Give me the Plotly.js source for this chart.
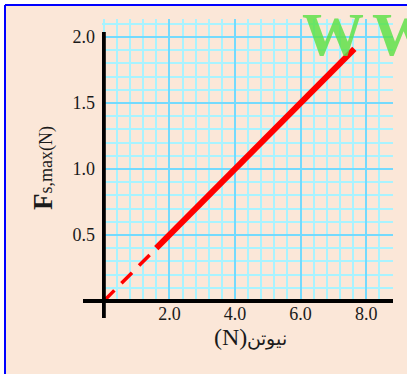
<!DOCTYPE html>
<html>
<head>
<meta charset="utf-8">
<script src="https://cdn.plot.ly/plotly-3.0.1.min.js"></script>
<style>
  html, body { margin: 0; padding: 0; background: #ffffff; }
  #chart { width: 407px; height: 374px; }
</style>
</head>
<body>
<div id="chart"></div>
<script>
// ---- data ----
const dashedX = [0, 1.6];
const dashedY = [0, 0.4];
const solidX = [1.6, 7.64];
const solidY = [0.4, 1.91];
const xTickVals = [2, 4, 6, 8];
const xTickText = ["2.0", "4.0", "6.0", "8.0"];
const yTickVals = [0.5, 1.0, 1.5, 2.0];
const yTickText = ["0.5", "1.0", "1.5", "2.0"];
const xTitleUnit = "(N)";
const xTitleWord = "نيوتن";
const yTitleMain = "F";
const yTitleSub = "s,max(N)";
const watermarkLetters = ["W", "W"];

// ---- layout geometry (pixels) ----
const W = 407, H = 374;
const M = { l: 102, r: 14, t: 19, b: 71 };
const PW = W - M.l - M.r, PH = H - M.t - M.b;
const px = x => (x - M.l) / PW;          // pixel x -> paper
const py = y => (H - M.b - y) / PH;      // pixel y -> paper

const serif = "Liberation Serif, Times New Roman, serif";
const majorGrid = "#74dafd";
const minorGrid = "#a8f3ff";

const traces = [
  {
    x: dashedX, y: dashedY, mode: "lines", type: "scatter",
    line: { color: "#ff0000", width: 3.5, dash: "15px,10px" },
    hoverinfo: "skip"
  },
  {
    x: solidX, y: solidY, mode: "lines", type: "scatter",
    line: { color: "#ff0000", width: 6 },
    hoverinfo: "skip"
  }
];

const watermarkAnnotations = watermarkLetters.map((ch, i) => ({
  xref: "paper", yref: "paper", x: px(300 + 70 * i), y: py(34), xanchor: "left", yanchor: "middle",
  showarrow: false, text: "<b>" + ch + "</b>",
  font: { family: serif, size: 62, color: "rgba(90,225,70,0.82)" }
}));

const layout = {
  width: W, height: H,
  margin: M,
  paper_bgcolor: "#ffffff",
  plot_bgcolor: "#ffffff",
  showlegend: false,
  xaxis: {
    range: [-0.055, 8.817],
    tickmode: "array", tickvals: xTickVals, ticktext: xTickText,
    showgrid: true, gridcolor: majorGrid, gridwidth: 2,
    zeroline: false, showline: false, ticks: "",
    ticklabelstandoff: -2,
    tickfont: { family: serif, size: 18, color: "#1a1a1a" },
    minor: { tickmode: "linear", tick0: 0, dtick: 0.4, showgrid: true, gridcolor: minorGrid, gridwidth: 2, ticks: "" },
    fixedrange: true
  },
  yaxis: {
    range: [-0.015, 2.136],
    tickmode: "array", tickvals: yTickVals, ticktext: yTickText,
    showgrid: true, gridcolor: majorGrid, gridwidth: 2,
    zeroline: false, showline: false, ticks: "",
    ticklabelstandoff: 6,
    tickfont: { family: serif, size: 18, color: "#1a1a1a" },
    minor: { tickmode: "linear", tick0: 0, dtick: 0.1, showgrid: true, gridcolor: minorGrid, gridwidth: 2, ticks: "" },
    fixedrange: true
  },
  shapes: [
    // peach panel with blue top/left border
    { type: "rect", xref: "paper", yref: "paper", x0: px(5), x1: px(420), y0: py(5), y1: py(390),
      fillcolor: "#fbe7d8", line: { width: 0 }, layer: "below" },
    { type: "line", xref: "paper", yref: "paper", x0: px(5), x1: px(420), y0: py(5), y1: py(5),
      line: { color: "#0000ff", width: 2 }, layer: "below" },
    { type: "line", xref: "paper", yref: "paper", x0: px(5), x1: px(5), y0: py(5), y1: py(390),
      line: { color: "#0000ff", width: 2 }, layer: "below" },
    // black axes
    { type: "line", xref: "x", yref: "paper", x0: 0, x1: 0, y0: py(318), y1: py(32),
      line: { color: "#000000", width: 4 } },
    { type: "line", xref: "paper", yref: "y", x0: px(83), x1: 1, y0: 0, y1: 0,
      line: { color: "#000000", width: 4 } }
  ],
  annotations: [
    { xref: "paper", yref: "paper", x: px(43), y: py(168), xanchor: "center", yanchor: "middle",
      textangle: -90, showarrow: false,
      text: "<b>" + yTitleMain + "</b><span style='font-size:18px'>" + yTitleSub + "</span>",
      font: { family: serif, size: 27, color: "#1a1a1a" } },
    { xref: "paper", yref: "paper", x: px(250), y: py(337), xanchor: "center", yanchor: "middle",
      showarrow: false,
      text: xTitleUnit + "<span style='font-size:19px'>" + xTitleWord + "</span>",
      font: { family: serif, size: 24, color: "#1a1a1a" } }
  ].concat(watermarkAnnotations)
};

Plotly.newPlot("chart", traces, layout, { staticPlot: true, displayModeBar: false });
</script>
</body>
</html>
